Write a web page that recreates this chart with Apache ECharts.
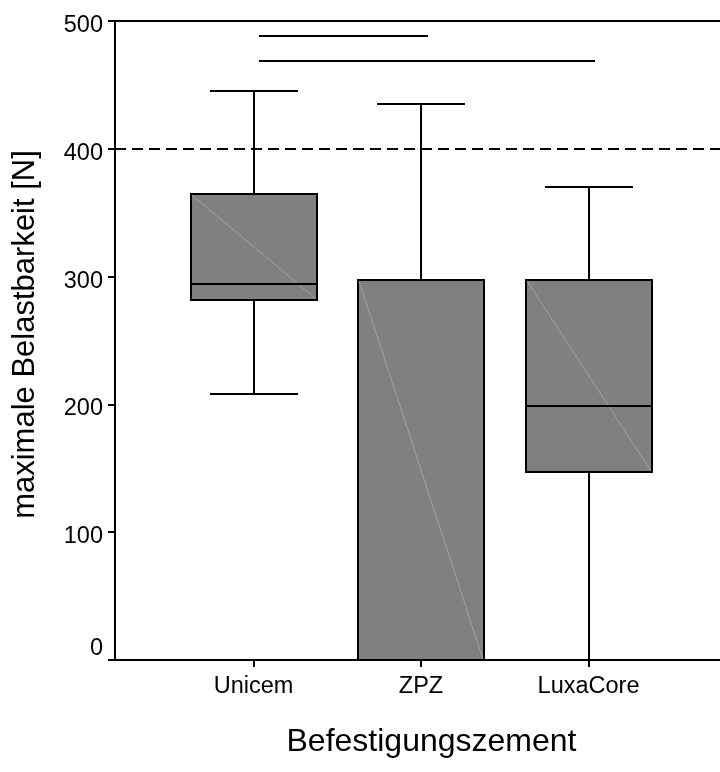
<!DOCTYPE html>
<html>
<head>
<meta charset="utf-8">
<script src="https://cdn.jsdelivr.net/npm/echarts@6/dist/echarts.min.js"></script>
<style>html,body{margin:0;padding:0;background:#fff;}#chart{width:720px;height:772px;}</style>
</head>
<body>
<div id="chart"></div>
<script>
const categories = ['Unicem', 'ZPZ', 'LuxaCore'];
const whiskerLow = [208, 0, 0];
const q1 = [282, 0, 147];
const median = [294, 0, 199];
const q3 = [365, 297, 297];
const whiskerHigh = [445, 435, 370];
const referenceLine = 400;
const sigStart = [0.03, 0.03];
const sigEnd = [1.04, 2.04];
const sigLevel = [488, 469];
const yMin = 0, yMax = 500, yInterval = 100;
const xTitle = 'Befestigungszement';
const yTitle = 'maximale Belastbarkeit [N]';

const FONT = 'Liberation Sans, Arial, sans-serif';
const boxData = categories.map((c, i) => [i, whiskerLow[i], q1[i], median[i], q3[i], whiskerHigh[i]]);
const sigData = sigStart.map((s, i) => [s, sigEnd[i], sigLevel[i]]);

const chart = echarts.init(document.getElementById('chart'), null, {renderer: 'canvas'});
const black = '#000';
const lw = 2;
const r = v => Math.round(v);

function renderBox(params, api) {
  const x = api.value(0);
  const lo = api.coord([x, api.value(1)]);
  const a = api.coord([x, api.value(2)]);
  const m = api.coord([x, api.value(3)]);
  const b = api.coord([x, api.value(4)]);
  const hi = api.coord([x, api.value(5)]);
  const boxW = api.size([0.752, 0])[0];
  const capW = api.size([0.531, 0])[0];
  const cx = r(lo[0]);
  const ls = {stroke: black, lineWidth: lw, fill: null};
  const L = r(cx - boxW / 2), R = r(cx + boxW / 2);
  const yb = r(b[1]), ya = r(a[1]), ym = r(m[1]), yhi = r(hi[1]), ylo = r(lo[1]);
  return {
    type: 'group',
    children: [
      {type: 'line', shape: {x1: cx, y1: yb, x2: cx, y2: yhi}, style: ls},
      {type: 'line', shape: {x1: cx, y1: ya, x2: cx, y2: ylo}, style: ls},
      {type: 'line', shape: {x1: r(cx - capW / 2), y1: yhi, x2: r(cx + capW / 2), y2: yhi}, style: ls},
      {type: 'line', shape: {x1: r(cx - capW / 2), y1: ylo, x2: r(cx + capW / 2), y2: ylo}, style: ls},
      {type: 'rect', shape: {x: L, y: yb, width: R - L, height: ya - yb}, style: {fill: '#808080', stroke: null}},
      {type: 'line', shape: {x1: L + 1, y1: yb + 1, x2: R - 1, y2: ya - 1}, style: {stroke: '#a8a8a8', lineWidth: 0.8}},
      {type: 'rect', shape: {x: L, y: yb, width: R - L, height: ya - yb}, style: ls},
      {type: 'line', shape: {x1: L, y1: ym, x2: R, y2: ym}, style: ls}
    ]
  };
}

function renderSig(params, api) {
  const p1 = api.coord([api.value(0), api.value(2)]);
  const p2 = api.coord([api.value(1), api.value(2)]);
  return {type: 'line', shape: {x1: r(p1[0]), y1: r(p1[1]), x2: r(p2[0]), y2: r(p2[1])}, style: {stroke: black, lineWidth: lw}};
}

const option = {
  animation: false,
  backgroundColor: '#fff',
  grid: {left: 115, right: 0, top: 21, bottom: 112, containLabel: false, outerBoundsMode: 'none'},
  xAxis: [
    {
      type: 'value', position: 'bottom', min: -0.827, max: 2.785,
      axisLine: {show: true, onZero: false, lineStyle: {color: black, width: lw}},
      axisTick: {show: true, customValues: [0, 1, 2], length: 7, lineStyle: {color: black, width: lw}},
      axisLabel: {customValues: [0, 1, 2], formatter: v => categories[Math.round(v)], fontSize: 23.5, color: black, fontFamily: FONT, margin: 15},
      splitLine: {show: false},
      name: xTitle, nameLocation: 'middle', nameGap: 66,
      nameTextStyle: {fontSize: 32, color: black, fontFamily: FONT, padding: [0, 0, 0, 28]}
    },
    {
      type: 'value', position: 'top', min: -0.827, max: 2.785,
      axisLine: {show: true, onZero: false, lineStyle: {color: black, width: lw}},
      axisTick: {show: false}, axisLabel: {show: false}, splitLine: {show: false}
    }
  ],
  yAxis: {
    type: 'value', min: yMin, max: yMax, interval: yInterval,
    axisLine: {show: true, onZero: false, lineStyle: {color: black, width: lw}},
    axisTick: {show: true, length: 7, lineStyle: {color: black, width: lw}},
    axisLabel: {
      margin: 12,
      formatter: v => v === 0 ? '{z|0}' : '{a|' + v + '}',
      rich: {
        a: {fontSize: 23.5, color: black, fontFamily: FONT, padding: [9, 0, 0, 0]},
        z: {fontSize: 23.5, color: black, fontFamily: FONT, padding: [0, 0, 22, 0]}
      }
    },
    splitLine: {show: false},
    name: yTitle, nameLocation: 'middle', nameGap: 74,
    nameTextStyle: {fontSize: 31, color: black, fontFamily: FONT, padding: [0, 0, 0, 12]}
  },
  series: [
    {
      type: 'custom', name: 'box', renderItem: renderBox, data: boxData,
      encode: {x: 0, y: [1, 2, 3, 4, 5]}, z: 3, silent: true,
      markLine: {
        silent: true, symbol: 'none', label: {show: false},
        lineStyle: {color: black, width: lw, type: [11, 6]},
        data: [{yAxis: referenceLine}]
      }
    },
    {
      type: 'custom', name: 'sig', renderItem: renderSig, data: sigData,
      encode: {x: [0, 1], y: 2}, z: 3, silent: true
    }
  ]
};
chart.setOption(option);
</script>
</body>
</html>
